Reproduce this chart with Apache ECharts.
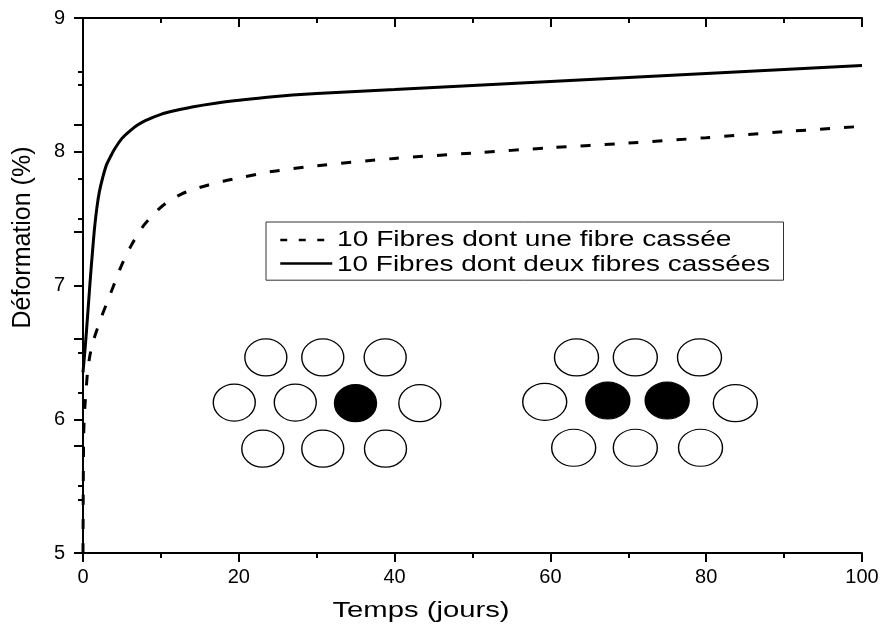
<!DOCTYPE html>
<html>
<head>
<meta charset="utf-8">
<script src="https://cdn.jsdelivr.net/npm/echarts@6/dist/echarts.min.js"></script>
<style>
html,body{margin:0;padding:0;background:#fff;}
#chart{width:882px;height:635px;}
</style>
</head>
<body>
<div id="chart"></div>
<script>
// ---- Data ----
var seriesNames = ['10 Fibres dont une fibre cassée', '10 Fibres dont deux fibres cassées'];
var xTitle = 'Temps (jours)';
var yTitle = 'Déformation (%)';

var oneBrokenX = [0, 0.03, 0.08, 0.15, 0.25, 0.4, 0.6, 0.9, 1.3, 1.8, 2.4, 3.0, 3.6, 4.2, 4.8, 5.5, 6.2, 7.0, 7.8, 8.7, 9.7, 11, 12.5, 14, 16, 18, 20.5, 24, 30, 40, 50, 60, 70, 80, 90, 100];
var oneBrokenY = [5.0, 5.45, 5.85, 6.0, 6.1, 6.22, 6.36, 6.48, 6.58, 6.67, 6.77, 6.86, 6.95, 7.04, 7.13, 7.22, 7.30, 7.38, 7.45, 7.51, 7.57, 7.63, 7.68, 7.715, 7.75, 7.78, 7.81, 7.85, 7.895, 7.95, 7.99, 8.03, 8.065, 8.105, 8.15, 8.19];

var twoBrokenX = [0, 0.3, 0.6, 0.9, 1.2, 1.5, 1.8, 2.1, 2.5, 3.0, 3.5, 4.0, 5.0, 6.0, 7.0, 8.0, 10, 12, 14, 17, 20, 24, 30, 40, 50, 60, 70, 80, 90, 100];
var twoBrokenY = [6.35, 6.55, 6.78, 7.02, 7.24, 7.44, 7.59, 7.70, 7.80, 7.90, 7.96, 8.015, 8.10, 8.155, 8.20, 8.233, 8.28, 8.31, 8.335, 8.363, 8.385, 8.41, 8.435, 8.465, 8.495, 8.525, 8.555, 8.585, 8.615, 8.645];

// fibre cross-section sketches (data coordinates)
var fibresAX = [23.47, 30.78, 38.79, 19.42, 27.25, 34.98, 43.24, 23.08, 30.78, 38.83];
var fibresAY = [6.462, 6.462, 6.462, 6.125, 6.125, 6.12, 6.12, 5.78, 5.78, 5.78];
var fibresABroken = [0, 0, 0, 0, 0, 1, 0, 0, 0, 0];
var fibresBX = [63.35, 70.90, 79.14, 59.27, 67.37, 74.99, 83.74, 62.99, 70.90, 79.27];
var fibresBY = [6.462, 6.462, 6.462, 6.13, 6.14, 6.14, 6.12, 5.787, 5.787, 5.787];
var fibresBBroken = [0, 0, 0, 0, 1, 1, 0, 0, 0, 0];

function zip(xs, ys) { return xs.map(function (x, i) { return [x, ys[i]]; }); }
function fibreData(xs, ys, broken) {
  return xs.map(function (x, i) {
    return { value: [x, ys[i]], itemStyle: { color: broken[i] ? '#000' : '#fff' } };
  });
}

var FONT = 'Liberation Sans, Arial, Helvetica, sans-serif';
var chart = echarts.init(document.getElementById('chart'), null, { renderer: 'canvas' });

var axisLine = { show: true, lineStyle: { color: '#000', width: 2 } };
function tickStyle(inside) {
  return { show: true, inside: inside, length: 9, lineStyle: { color: '#000', width: 2 } };
}
function minorStyle() {
  return { show: true, splitNumber: 2, length: 5, lineStyle: { color: '#000', width: 2 } };
}

var option = {
  backgroundColor: '#fff',
  animation: false,
  textStyle: { fontFamily: FONT, color: '#000' },
  grid: { left: 83, top: 18, width: 779, height: 535, containLabel: false },
  legend: {
    data: [
      { name: seriesNames[0], lineStyle: { type: [7, 11.5], width: 2.5 } },
      { name: seriesNames[1], lineStyle: { width: 2.5 } }
    ],
    formatter: function () { return ''; },
    selectedMode: false,
    orient: 'vertical',
    left: 266,
    top: 222,
    backgroundColor: '#fff',
    borderColor: '#333',
    borderWidth: 1,
    borderRadius: 0,
    padding: [11, 450, 11, 13],
    itemWidth: 52,
    itemHeight: 14,
    itemGap: 11,
    itemStyle: { opacity: 0 },
    textStyle: { fontSize: 1 }
  },
  graphic: [
    { type: 'text', x: 337, y: 240, scaleX: 1.28, z: 100,
      style: { text: seriesNames[0], fontSize: 22, fontFamily: FONT, fill: '#000', align: 'left', verticalAlign: 'middle' } },
    { type: 'text', x: 337, y: 265, scaleX: 1.27, z: 100,
      style: { text: seriesNames[1], fontSize: 22, fontFamily: FONT, fill: '#000', align: 'left', verticalAlign: 'middle' } },
    { type: 'text', x: 421, y: 611, scaleX: 1.33, z: 100,
      style: { text: xTitle, fontSize: 22, fontFamily: FONT, fill: '#000', align: 'center', verticalAlign: 'middle' } }
  ],
  xAxis: [{
    type: 'value', position: 'bottom', min: 0, max: 100, interval: 20,
    axisLine: axisLine, axisTick: tickStyle(false), minorTick: minorStyle(),
    splitLine: { show: false }, minorSplitLine: { show: false },
    axisLabel: { fontSize: 20, color: '#000', margin: 14, fontFamily: FONT }
  }, {
    type: 'value', position: 'top', min: 0, max: 100, interval: 20,
    axisLine: axisLine, axisTick: tickStyle(true), minorTick: minorStyle(),
    splitLine: { show: false }, axisLabel: { show: false }
  }],
  yAxis: [{
    type: 'value', position: 'left', min: 5, max: 9, interval: 1,
    axisLine: axisLine, axisTick: tickStyle(false), minorTick: minorStyle(),
    splitLine: { show: false }, minorSplitLine: { show: false },
    axisLabel: { fontSize: 20, color: '#000', margin: 18, fontFamily: FONT },
    name: yTitle, nameLocation: 'middle', nameGap: 47, nameRotate: 90,
    nameTextStyle: { fontSize: 25, color: '#000', fontFamily: FONT, padding: [0, 0, 0, 96] }
  }, {
    type: 'value', position: 'right', min: 0, max: 5, interval: 1,
    axisLine: axisLine, axisTick: tickStyle(true), minorTick: minorStyle(),
    splitLine: { show: false }, axisLabel: { show: false }
  }],
  series: [{
    name: seriesNames[0], type: 'line', data: zip(oneBrokenX, oneBrokenY),
    symbol: 'none', smooth: 0.3, color: '#000',
    lineStyle: { color: '#000', width: 3, type: [10, 14] }, z: 3
  }, {
    name: seriesNames[1], type: 'line', data: zip(twoBrokenX, twoBrokenY),
    symbol: 'none', smooth: 0.3, color: '#000',
    lineStyle: { color: '#000', width: 3, type: 'solid' }, z: 3
  }, {
    name: 'fibresA', type: 'scatter', data: fibreData(fibresAX, fibresAY, fibresABroken),
    symbol: 'circle', symbolSize: [42, 37], silent: true,
    itemStyle: { borderColor: '#000', borderWidth: 1.3, opacity: 1 }, z: 2
  }, {
    name: 'fibresB', type: 'scatter', data: fibreData(fibresBX, fibresBY, fibresBBroken),
    symbol: 'circle', symbolSize: [44, 37], silent: true,
    itemStyle: { borderColor: '#000', borderWidth: 1.3, opacity: 1 }, z: 2
  }]
};
chart.setOption(option);
</script>
</body>
</html>
